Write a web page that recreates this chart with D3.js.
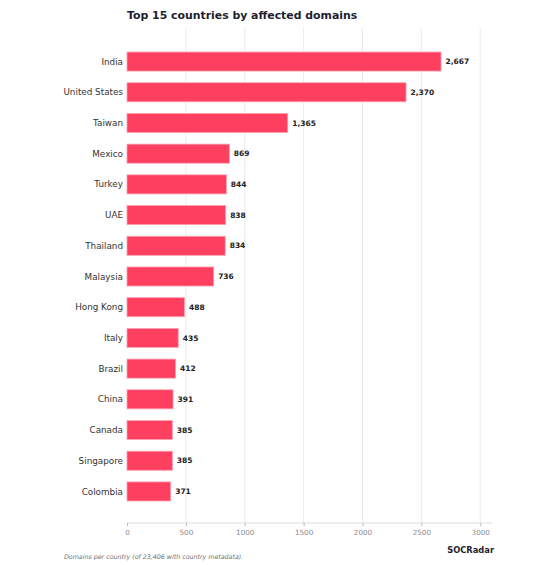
<!DOCTYPE html>
<html><head><meta charset="utf-8">
<script src="https://cdn.jsdelivr.net/npm/d3@7"></script>
<style>body{margin:0;background:#fff}svg{display:block}text{font-family:"DejaVu Sans",sans-serif}</style>
</head><body>
<svg id="c" width="551" height="565"></svg>
<script>
const countries = ["India","United States","Taiwan","Mexico","Turkey","UAE","Thailand","Malaysia","Hong Kong","Italy","Brazil","China","Canada","Singapore","Colombia"];
const domains = [2667,2370,1365,869,844,838,834,736,488,435,412,391,385,385,371];
const xTicks = [0,500,1000,1500,2000,2500,3000];
const title = "Top 15 countries by affected domains";
const footnote = "Domains per country (of 23,406 with country metadata).";
const brand = "SOCRadar";

const svg = d3.select("#c");
const x = d3.scaleLinear().domain([0,3100]).range([127,492]);
const y = d3.scaleBand().domain(countries).range([29,524]).paddingInner(0.38).paddingOuter(0.75);
const fmt = d3.format(",");

// grid
svg.append("g").selectAll("line").data(xTicks.slice(1)).join("line")
  .attr("x1",d=>x(d)).attr("x2",d=>x(d)).attr("y1",28).attr("y2",523)
  .attr("stroke","#e6e6e6").attr("stroke-width",0.8);

// axis
const ax = svg.append("g").attr("transform","translate(0,523)")
  .call(d3.axisBottom(x).tickValues(xTicks).tickFormat(d3.format("d")).tickSize(3).tickPadding(4));
ax.select(".domain").attr("stroke","#dcdcdc").attr("d","M127,0H492");
ax.selectAll(".tick line").attr("stroke","#bbb");
ax.selectAll(".tick text").attr("fill","#8a8a8a").style("font-size","7.2px").style("font-family","DejaVu Sans");

// bars
svg.append("g").selectAll("rect").data(countries).join("rect")
  .attr("x",x(0)).attr("y",d=>y(d)).attr("width",(d,i)=>x(domains[i])-x(0)).attr("height",y.bandwidth())
  .attr("fill","#ff3f5f").attr("stroke","#ff9fb0").attr("stroke-width",0.8);

// country labels
svg.append("g").selectAll("text").data(countries).join("text")
  .attr("x",123).attr("y",d=>y(d)+y.bandwidth()/2).attr("dy","0.35em")
  .attr("text-anchor","end").attr("fill","#333").style("font-size","8.8px").text(d=>d);

// value labels
svg.append("g").selectAll("text").data(countries).join("text")
  .attr("x",(d,i)=>x(domains[i])+4.5).attr("y",d=>y(d)+y.bandwidth()/2).attr("dy","0.35em")
  .attr("fill","#222").style("font-size","7.5px").style("font-weight","bold").text((d,i)=>fmt(domains[i]));

svg.append("text").attr("x",127).attr("y",19).attr("fill","#1e1e2e")
  .style("font-size","10.9px").style("font-weight","bold").text(title);
svg.append("text").attr("x",494).attr("y",553).attr("text-anchor","end").attr("fill","#1e1e2e")
  .style("font-size","8.3px").style("font-weight","bold").text(brand);
svg.append("text").attr("x",64).attr("y",559).attr("fill","#707070")
  .style("font-size","6.3px").style("font-style","italic").text(footnote);
</script>
</body></html>
